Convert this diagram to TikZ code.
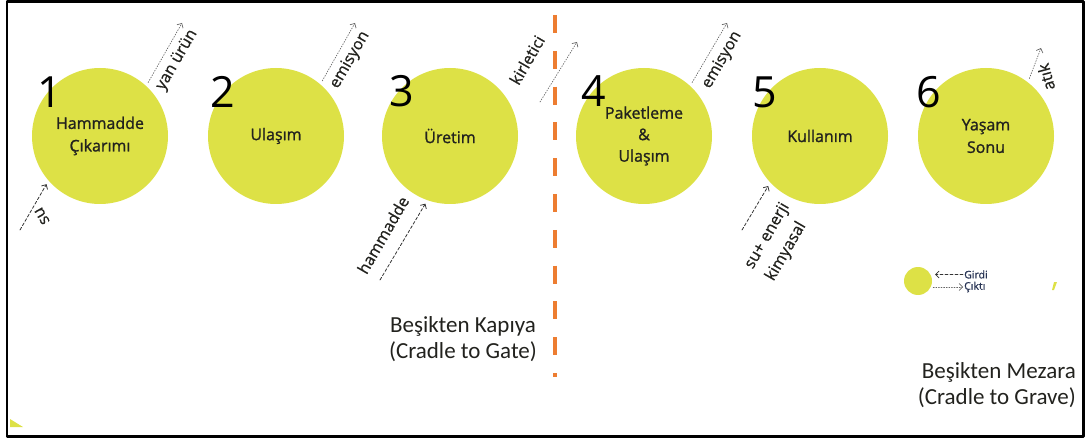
\documentclass[tikz,border=0pt]{standalone}
\usepackage{fontspec}
\usetikzlibrary{arrows.meta}
\newfontfamily\circfont[FakeBold=1.3]{Open Sans}
\newfontfamily\flowfont[FakeBold=0.8]{Open Sans}
\newfontfamily\lblfont{Open Sans}
\newfontfamily\calfont{Carlito}
\definecolor{lcayellow}{RGB}{221,225,70}
\definecolor{lcaorange}{RGB}{237,125,49}
\definecolor{lcatext}{RGB}{34,34,30}
\definecolor{lcanavy}{RGB}{40,52,84}
\begin{document}
\begin{tikzpicture}[x=1pt,y=-1pt,
  line cap=round,line join=round,
  stage/.style={circle,fill=lcayellow,minimum size=136pt,inner sep=0pt,outer sep=4pt,
    text=lcatext,align=center,font=\circfont\fontsize{16}{22.5}\selectfont},
  num/.style={inner sep=0pt,text=black,font=\lblfont\fontsize{43}{43}\selectfont},
  flow/.style={inner sep=0pt,text=lcatext,font=\flowfont\fontsize{16}{24}\selectfont},
  inarr/.style={line width=.8pt,black!80,dash pattern=on 3pt off 2pt,
    -{Straight Barb[length=3.5pt,width=7pt]}},
  outarr/.style={line width=.7pt,black!60,dash pattern=on 1pt off 1.6pt,
    -{Straight Barb[length=3.5pt,width=7pt]}},
  scope/.style={inner sep=0pt,align=center,text=lcatext,font=\calfont\fontsize{23}{26}\selectfont}]

  \useasboundingbox (0,0) rectangle (1088,441);
  \draw[line width=2.5pt] (7,1.5) rectangle (1083.5,436.5);

  %% ---- life cycle stages
  \node[stage] (c1) at (100,136) {Hammadde\\Çıkarımı};
  \node[stage] (c2) at (276,136) {Ulaşım};
  \node[stage] (c3) at (450,136) {\raisebox{-5pt}{Üretim}};
  \node[stage] (c4) at (644,136) {Paketleme\\[-1pt]\&\\[-1pt]Ulaşım};
  \node[stage] (c5) at (820,136) {Kullanım};
  \node[stage] (c6) at (986,136) {Yaşam\\Sonu};

  % stage numbers
  \node[num] (n1) at (50,92)  {1};
  \node[num] (n2) at (223,92) {2};
  \node[num] (n3) at (402,91) {3};
  \node[num] (n4) at (594,91) {4};
  \node[num] (n5) at (765,92) {5};
  \node[num] (n6) at (929,92) {6};

  %% ---- outputs (dotted) and inputs (dashed)
  \coordinate (o1) at (182,23);
  \coordinate (o2) at (355,23);
  \coordinate (k3a) at (540,102);
  \coordinate (k3b) at (577,42);
  \coordinate (o4) at (727,23);
  \coordinate (o6) at (1041,48);
  \coordinate (i1) at (20,230);
  \coordinate (i3) at (380,280);
  \coordinate (i5) at (742,230);

  \draw[outarr] (c1.48) -- (o1);
  \draw[outarr] (c2.50) -- (o2);
  \draw[outarr] (k3a) -- (k3b);
  \draw[outarr] (c4.48) -- (o4);
  \draw[outarr] (c6.53) -- (o6);
  \draw[inarr] (i1) -- (c1.222);
  \draw[inarr] (i3) -- (c3.250);
  \draw[inarr] (i5) -- (c5.224);

  \node[flow,rotate=60] (yan) at (177,60) {yan ürün};
  \node[flow,rotate=60] (em2) at (350,60) {emisyon};
  \node[flow,rotate=60] (kir) at (527,60) {kirletici};
  \node[flow,rotate=60] (em4) at (722,60) {emisyon};
  \node[flow,rotate=105] (atk) at (1046,77) {atık};
  \node[flow,rotate=120] (su1) at (42,216) {su};
  \node[flow,rotate=60] (ham) at (383,235) {hammadde};
  \node[flow,rotate=60,align=left] (su5) at (778,242) {su+ enerji\\kimyasal};

  %% ---- system boundary
  \draw[lcaorange,line width=4.5pt,line cap=butt,dash pattern=on 18pt off 17.8pt] (555,15) -- (555,377);
  \node[scope] (gate) at (463,339) {Beşikten Kapıya\\(Cradle to Gate)};
  \node[scope,anchor=east,align=right] (grave) at (1076,385) {Beşikten Mezara\\(Cradle to Grave)};

  %% ---- legend
  \node[circle,fill=lcayellow,minimum size=28pt,inner sep=0pt] (lg) at (918,281) {};
  \node[anchor=west,inner sep=0pt,text=lcanavy,font=\flowfont\fontsize{10.5}{10}\selectfont] (gd) at (964,274.5) {Girdi};
  \node[anchor=west,inner sep=0pt,text=lcanavy,font=\flowfont\fontsize{10.5}{10}\selectfont] (ck) at (964,287) {Çıktı};
  \draw[inarr,line width=.6pt] ([xshift=-1pt]gd.west) -- ([xshift=3pt]gd.west -| lg.east);
  \draw[outarr,line width=.6pt] ([xshift=1pt]ck.west -| lg.east) -- ([xshift=-1pt]ck.west);

  % stray slivers
  \fill[lcayellow] (1054,282) -- (1057,282) -- (1054,290) -- (1052,290) -- cycle;
  \fill[lcayellow] (10,419) -- (23,427) -- (10,427) -- cycle;
\end{tikzpicture}
\end{document}
